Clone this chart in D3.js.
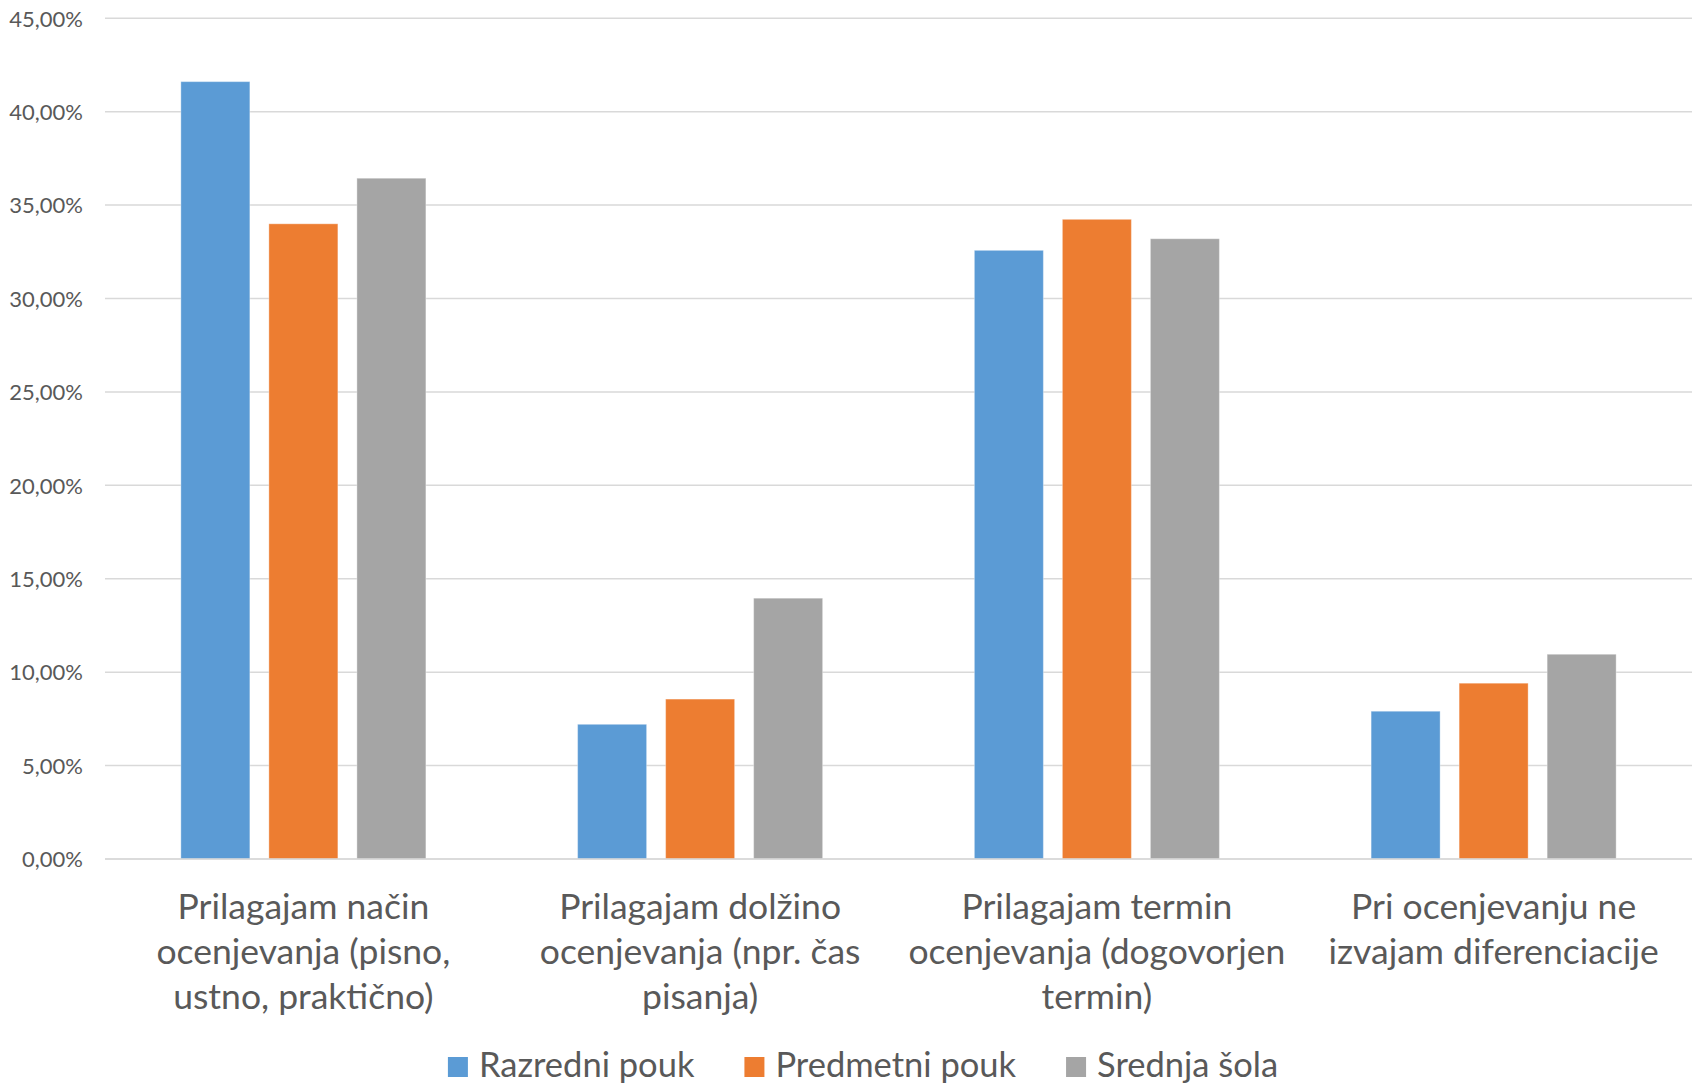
<!DOCTYPE html>
<html>
<head>
<meta charset="utf-8">
<script src="https://cdn.jsdelivr.net/npm/d3@7"></script>
<style>
  html, body { margin: 0; padding: 0; background: #fff; }
  svg { display: block; }
  text { font-family: Lato, "Open Sans", sans-serif; fill: #595959; }
</style>
</head>
<body>
<svg id="chart" width="1696" height="1085"></svg>
<script>
const categories = [
  ["Prilagajam način", "ocenjevanja (pisno,", "ustno, praktično)"],
  ["Prilagajam dolžino", "ocenjevanja (npr. čas", "pisanja)"],
  ["Prilagajam termin", "ocenjevanja (dogovorjen", "termin)"],
  ["Pri ocenjevanju ne", "izvajam diferenciacije"]
];
const seriesNames = ["Razredni pouk", "Predmetni pouk", "Srednja šola"];
const razredni = [41.61, 7.21, 32.58, 7.91];
const predmetni = [34.0, 8.56, 34.24, 9.41];
const srednja = [36.44, 13.96, 33.2, 10.96];
const colors = ["#5B9BD5", "#ED7D31", "#A5A5A5"];
const yTicks = [0, 5, 10, 15, 20, 25, 30, 35, 40, 45];

const seriesValues = [razredni, predmetni, srednja];
const svg = d3.select("#chart");

const plotLeft = 105, plotRight = 1692, plotTop = 18.3, plotBottom = 859;
const catIdx = categories.map((d, i) => i);

const x0 = d3.scaleBand().domain(catIdx).range([plotLeft, plotRight]).paddingInner(0).paddingOuter(0);
const x1 = d3.scaleBand().domain(seriesNames).range([0, x0.bandwidth()]).paddingInner(0.216).paddingOuter(0.862);
const y = d3.scaleLinear().domain([0, 45]).range([plotBottom, plotTop]);

const fmt = v => d3.format(".2f")(v).replace(".", ",") + "%";

// gridlines
svg.append("g").selectAll("line").data(yTicks).join("line")
  .attr("x1", plotLeft).attr("x2", plotRight)
  .attr("y1", d => y(d)).attr("y2", d => y(d))
  .attr("stroke", "#D9D9D9").attr("stroke-width", 1.5);

// y axis labels
const yAxis = d3.axisLeft(y).tickValues(yTicks).tickFormat(fmt).tickSize(0).tickPadding(0);
const yg = svg.append("g").attr("transform", `translate(83,0)`).call(yAxis);
yg.select(".domain").remove();
yg.selectAll("text").attr("font-size", 22).attr("fill", "#595959")
  .style("font-family", "Lato, 'Open Sans', sans-serif").attr("dy", "0.35em");

// bars
const groups = svg.append("g").selectAll("g").data(catIdx).join("g")
  .attr("transform", d => `translate(${x0(d)},0)`);
groups.selectAll("rect")
  .data(ci => seriesNames.map((s, si) => ({ s, si, v: seriesValues[si][ci] })))
  .join("rect")
  .attr("x", d => x1(d.s))
  .attr("width", x1.bandwidth())
  .attr("y", d => y(d.v))
  .attr("height", d => y(0) - y(d.v))
  .attr("fill", d => colors[d.si])
  .attr("stroke", "#ffffff").attr("stroke-opacity", 0.35).attr("stroke-width", 1);

// baseline on top
svg.append("line").attr("x1", plotLeft).attr("x2", plotRight).attr("y1", y(0)).attr("y2", y(0))
  .attr("stroke", "#D9D9D9").attr("stroke-width", 1.5);

// category labels
const lab = svg.append("g").selectAll("text").data(catIdx).join("text")
  .attr("text-anchor", "middle")
  .attr("font-size", 35.5)
  .attr("x", d => x0(d) + x0.bandwidth() / 2)
  .attr("y", 919);
lab.selectAll("tspan").data(d => categories[d].map(t => ({ t, x: x0(d) + x0.bandwidth() / 2 })))
  .join("tspan")
  .attr("x", d => d.x)
  .attr("dy", (d, i) => i === 0 ? 0 : 45)
  .text(d => d.t);

// legend
const leg = svg.append("g");
const items = leg.selectAll("g").data(seriesNames).join("g");
items.append("rect").attr("width", 20).attr("height", 20).attr("y", 1057)
  .attr("fill", (d, i) => colors[i]);
items.append("text").attr("x", 31).attr("y", 1077).attr("font-size", 34.5).text(d => d);
let widths = [];
items.each(function () { widths.push(31 + this.querySelector("text").getComputedTextLength()); });
const gap = 50;
const total = d3.sum(widths) + gap * (widths.length - 1);
let cx = 863 - total / 2;
items.each(function (d, i) {
  d3.select(this).attr("transform", `translate(${cx},0)`);
  cx += widths[i] + gap;
});
</script>
</body>
</html>
